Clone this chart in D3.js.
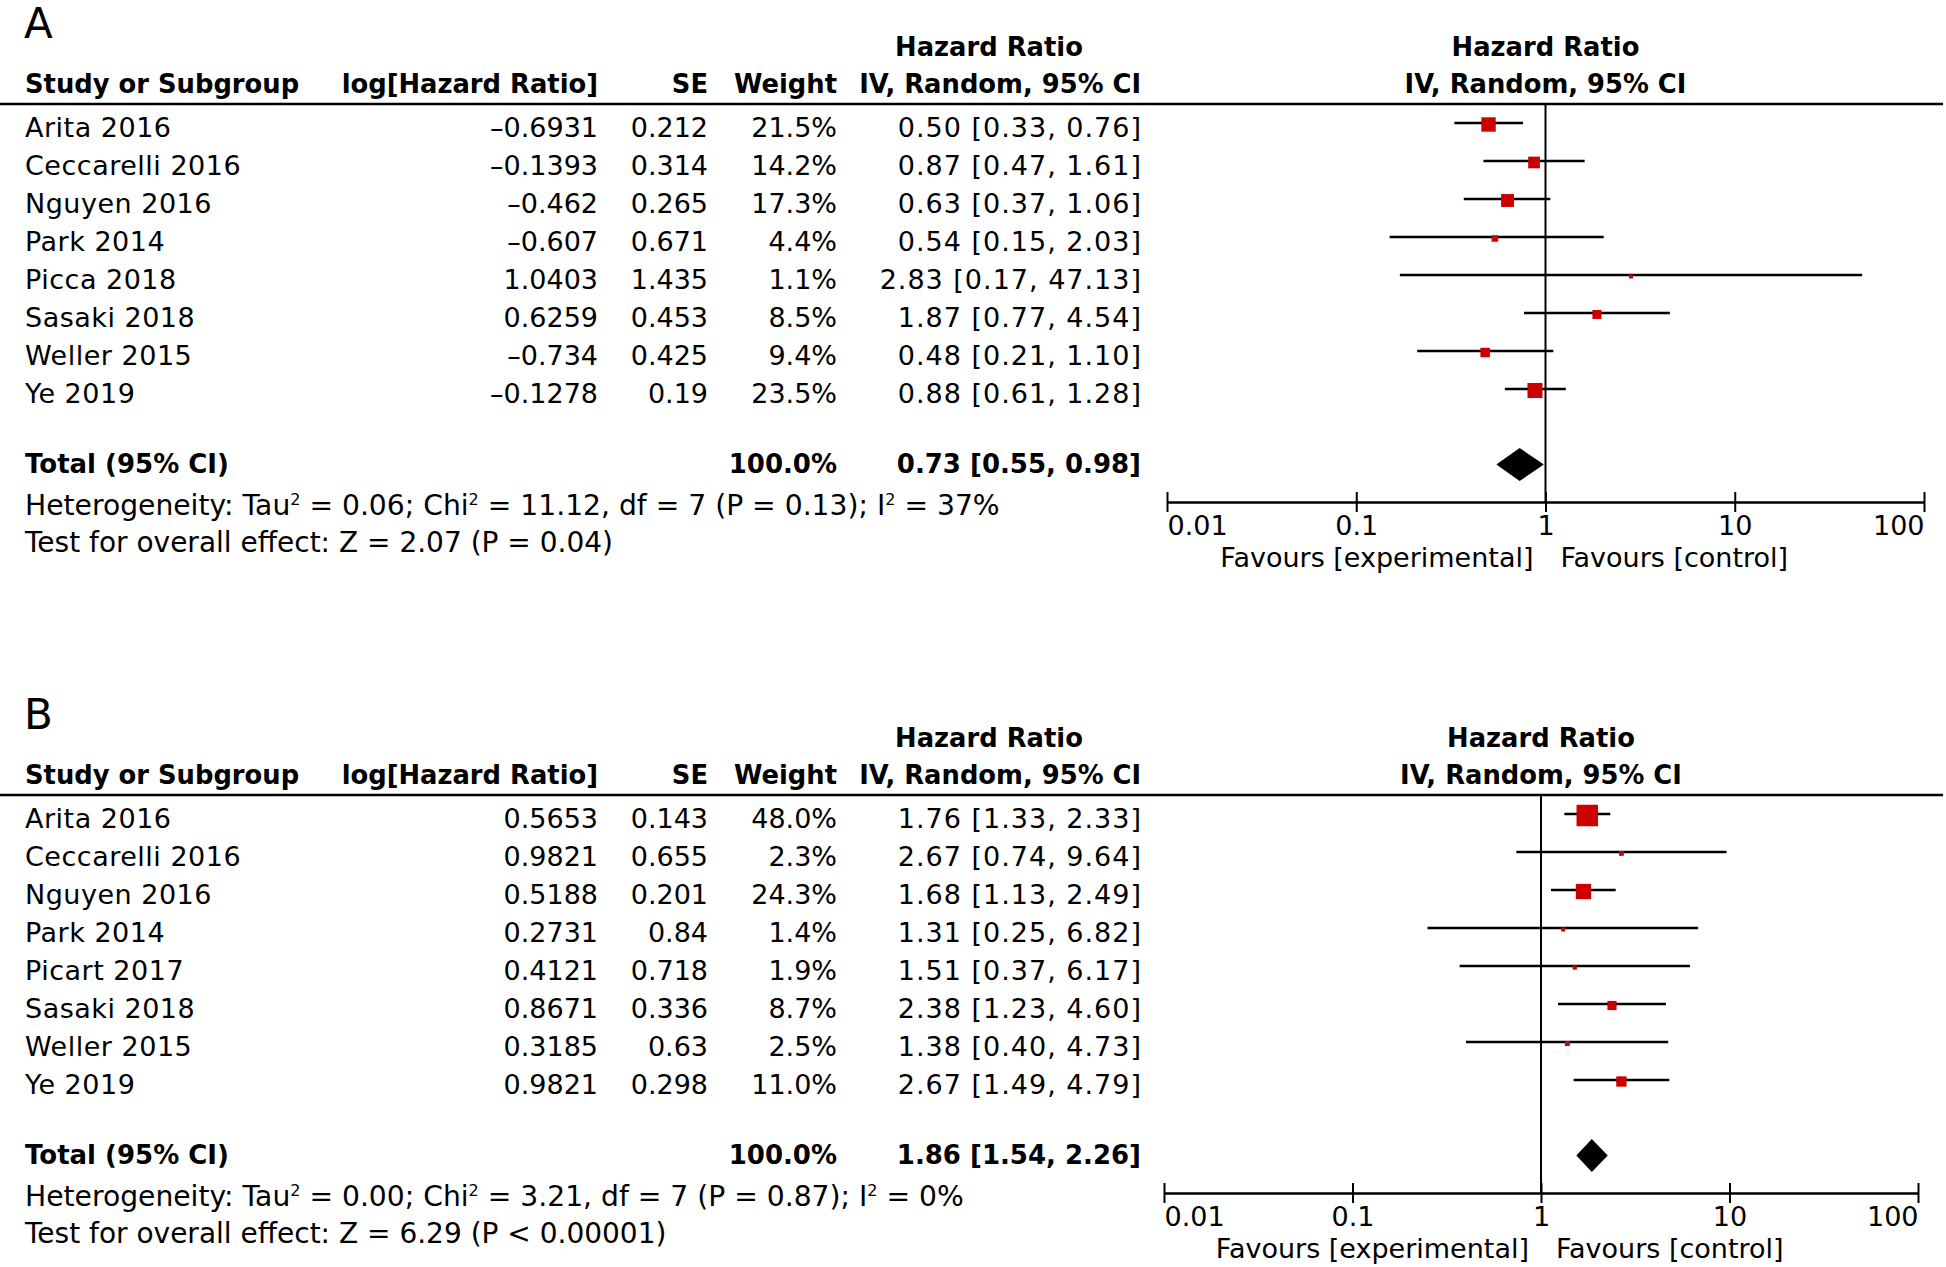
<!DOCTYPE html>
<html><head><meta charset="utf-8">
<script src="https://cdn.jsdelivr.net/npm/d3@7"></script>
<style>
body{margin:0;background:#fff}
text{font-family:"DejaVu Sans",sans-serif;fill:#000}
</style>
</head><body>
<svg id="c" width="1946" height="1267"></svg>
<script>
// ---------- Panel A data ----------
const studiesA = ["Arita 2016","Ceccarelli 2016","Nguyen 2016","Park 2014","Picca 2018","Sasaki 2018","Weller 2015","Ye 2019"];
const logHrA = [-0.6931,-0.1393,-0.462,-0.607,1.0403,0.6259,-0.734,-0.1278];
const seA = [0.212,0.314,0.265,0.671,1.435,0.453,0.425,0.19];
const weightA = [21.5,14.2,17.3,4.4,1.1,8.5,9.4,23.5];
const hrA = [0.50,0.87,0.63,0.54,2.83,1.87,0.48,0.88];
const loA = [0.33,0.47,0.37,0.15,0.17,0.77,0.21,0.61];
const hiA = [0.76,1.61,1.06,2.03,47.13,4.54,1.10,1.28];
const totalA = {hr:0.73, lo:0.55, hi:0.98};
const hetA = {tau2:"0.06", chi2:"11.12", df:"7", p:"0.13", i2:"37%"};
const testA = "Test for overall effect: Z = 2.07 (P = 0.04)";

// ---------- Panel B data ----------
const studiesB = ["Arita 2016","Ceccarelli 2016","Nguyen 2016","Park 2014","Picart 2017","Sasaki 2018","Weller 2015","Ye 2019"];
const logHrB = [0.5653,0.9821,0.5188,0.2731,0.4121,0.8671,0.3185,0.9821];
const seB = [0.143,0.655,0.201,0.84,0.718,0.336,0.63,0.298];
const weightB = [48.0,2.3,24.3,1.4,1.9,8.7,2.5,11.0];
const hrB = [1.76,2.67,1.68,1.31,1.51,2.38,1.38,2.67];
const loB = [1.33,0.74,1.13,0.25,0.37,1.23,0.40,1.49];
const hiB = [2.33,9.64,2.49,6.82,6.17,4.60,4.73,4.79];
const totalB = {hr:1.86, lo:1.54, hi:2.26};
const hetB = {tau2:"0.00", chi2:"3.21", df:"7", p:"0.87", i2:"0%"};
const testB = "Test for overall effect: Z = 6.29 (P < 0.00001)";

// ---------- Axis ----------
const tickValues = [0.01,0.1,1,10,100];
const tickLabels = ["0.01","0.1","1","10","100"];
const favLeft = "Favours [experimental]";
const favRight = "Favours [control]";

const svg = d3.select("#c");
const sizeScale = d3.scaleSqrt().domain([0,48]).range([0,21.5]);
const fmtNum = v => String(v).replace("-","\u2013");

function drawPanel(p){
  const g = svg.append("g").attr("transform",`translate(0,${p.dy})`);
  const x = d3.scaleLog().domain([0.01,100]).range(p.range);
  const n = p.studies.length;
  const rowY = d3.scalePoint().domain(p.studies).range([136.7, 136.7 + 38*(n-1)]);

  g.append("text").attr("x",24).attr("y",38).attr("font-size",42).text(p.label);

  const hdr = (txt,xx,yy,anchor) => g.append("text").attr("x",xx).attr("y",yy)
      .attr("text-anchor",anchor).attr("font-size",25.8).attr("font-weight","bold").text(txt);
  hdr("Hazard Ratio",989,56,"middle");
  hdr("Study or Subgroup",25,93,"start");
  hdr("log[Hazard Ratio]",598,93,"end");
  hdr("SE",708,93,"end");
  hdr("Weight",837,93,"end");
  hdr("IV, Random, 95% CI",1141,93,"end");
  hdr("Hazard Ratio",x(1),56,"middle");
  hdr("IV, Random, 95% CI",x(1),93,"middle");

  g.append("line").attr("x1",0).attr("x2",1943).attr("y1",104).attr("y2",104)
    .attr("stroke","#000").attr("stroke-width",2.5);

  // null line
  g.append("line").attr("x1",x(1)).attr("x2",x(1)).attr("y1",104).attr("y2",502)
    .attr("stroke","#000").attr("stroke-width",2);

  const rows = p.studies.map((s,i)=>({s, lh:p.logHr[i], se:p.se[i], w:p.weight[i], hr:p.hr[i], lo:p.lo[i], hi:p.hi[i]}));
  const rg = g.selectAll("g.row").data(rows).enter().append("g").attr("class","row");
  const cell = (fn,xx,anchor,ls) => rg.append("text").attr("x",xx).attr("y",d=>rowY(d.s))
      .attr("text-anchor",anchor).attr("font-size",27).attr("letter-spacing",ls||0).text(fn);
  cell(d=>d.s,25,"start",0.5);
  cell(d=>fmtNum(d.lh),598,"end");
  cell(d=>fmtNum(d.se),708,"end");
  cell(d=>d.w.toFixed(1)+"%",837,"end");
  cell(d=>`${d.hr.toFixed(2)} [${d.lo.toFixed(2)}, ${d.hi.toFixed(2)}]`,1142,"end",1);

  rg.append("line").attr("x1",d=>x(d.lo)).attr("x2",d=>x(d.hi))
    .attr("y1",d=>rowY(d.s)-13.7).attr("y2",d=>rowY(d.s)-13.7)
    .attr("stroke","#000").attr("stroke-width",2.5);
  rg.append("rect").attr("fill","#cc0000")
    .attr("width",d=>Math.max(4,sizeScale(d.w)))
    .attr("height",d=>Math.max(4,sizeScale(d.w)))
    .attr("x",d=>x(d.hr)-Math.max(4,sizeScale(d.w))/2)
    .attr("y",d=>rowY(d.s)-12.2-Math.max(4,sizeScale(d.w))/2);

  // total
  const tb = (txt,xx,anchor)=> g.append("text").attr("x",xx).attr("y",473).attr("text-anchor",anchor)
      .attr("font-size",26).attr("font-weight","bold").text(txt);
  tb("Total (95% CI)",25,"start");
  tb("100.0%",837,"end");
  tb(`${p.total.hr.toFixed(2)} [${p.total.lo.toFixed(2)}, ${p.total.hi.toFixed(2)}]`,1141,"end");
  const cy = 464.5, hh = 16.5;
  g.append("path").attr("fill","#000")
    .attr("d",`M${x(p.total.lo)},${cy}L${x(p.total.hr)},${cy-hh}L${x(p.total.hi)},${cy}L${x(p.total.hr)},${cy+hh}Z`);

  // heterogeneity
  const h = g.append("text").attr("x",25).attr("y",515).attr("font-size",28.2);
  const sup = (t)=>{ h.append("tspan").attr("dy",-10).attr("font-size",16).text(t);};
  h.append("tspan").text("Heterogeneity: Tau");
  sup("2");
  h.append("tspan").attr("dy",10).text(` = ${p.het.tau2}; Chi`);
  sup("2");
  h.append("tspan").attr("dy",10).text(` = ${p.het.chi2}, df = ${p.het.df} (P = ${p.het.p}); I`);
  sup("2");
  h.append("tspan").attr("dy",10).text(` = ${p.het.i2}`);
  g.append("text").attr("x",25).attr("y",552).attr("font-size",28).text(p.test);

  // axis
  const axis = d3.axisBottom(x).tickValues(tickValues).tickSizeOuter(0).tickSizeInner(10)
      .tickFormat((d,i)=>tickLabels[i]);
  const ag = g.append("g").attr("transform","translate(0,502)").call(axis);
  ag.select(".domain").attr("stroke","#000").attr("stroke-width",2.5);
  ag.selectAll(".tick line").attr("y1",-10).attr("y2",10).attr("stroke","#000").attr("stroke-width",2);
  ag.selectAll(".tick text").attr("font-size",27).attr("font-family","DejaVu Sans").attr("fill","#000")
    .attr("y",33).attr("dy",0)
    .attr("text-anchor",(d,i)=> i===0 ? "start" : (i===tickValues.length-1 ? "end" : "middle"));
  g.append("text").attr("x",x(1)-12).attr("y",567).attr("text-anchor","end").attr("font-size",27).text(favLeft);
  g.append("text").attr("x",x(1)+15).attr("y",567).attr("text-anchor","start").attr("font-size",27).text(favRight);
}

drawPanel({label:"A", dy:0, range:[1167,1924], studies:studiesA, logHr:logHrA, se:seA, weight:weightA,
  hr:hrA, lo:loA, hi:hiA, total:totalA, het:hetA, test:testA});
drawPanel({label:"B", dy:691, range:[1164,1918], studies:studiesB, logHr:logHrB, se:seB, weight:weightB,
  hr:hrB, lo:loB, hi:hiB, total:totalB, het:hetB, test:testB});
</script>
</body></html>
